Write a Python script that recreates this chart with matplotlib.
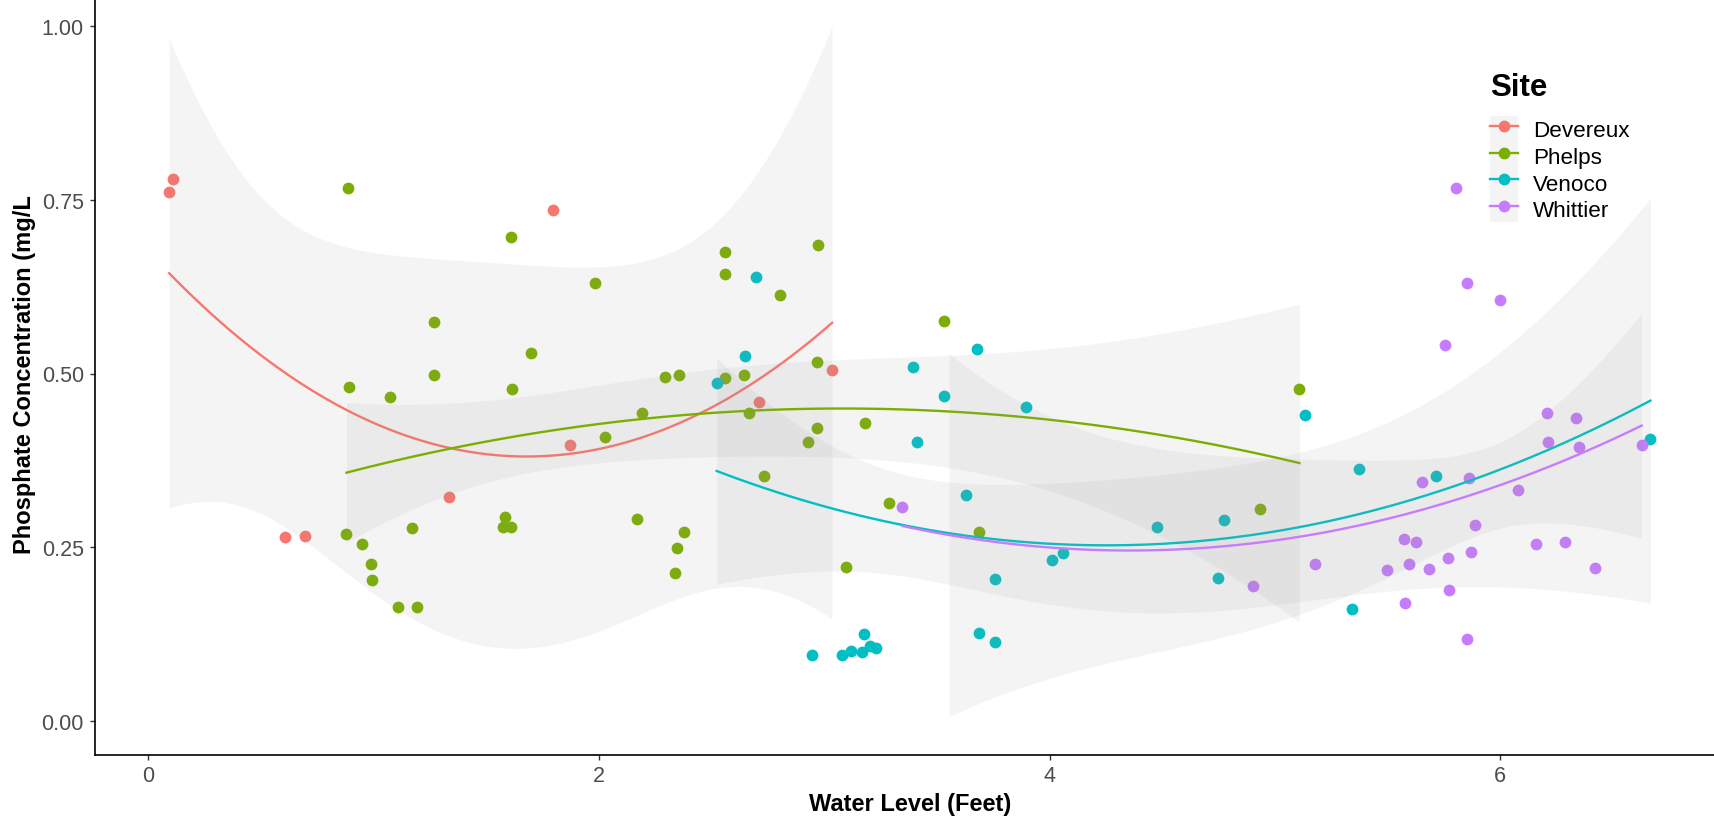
import math
import numpy as np
import matplotlib
matplotlib.use("Agg")
import matplotlib.pyplot as plt
from matplotlib.lines import Line2D
from matplotlib.patches import Patch
from matplotlib.legend_handler import HandlerTuple

plt.rcParams["font.family"] = ["Liberation Sans", "DejaVu Sans"]

sites = ["Devereux", "Phelps", "Venoco", "Whittier"]
colors = ["#F8766D", "#7CAE00", "#00BFC4", "#C77CFF"]

devereux_x = [0.093, 0.111, 0.607, 0.697, 1.335, 1.798, 1.873, 2.712, 3.035]
devereux_y = [0.762, 0.780, 0.264, 0.266, 0.322, 0.735, 0.397, 0.459, 0.505]

phelps_x = [0.886, 1.610, 1.267, 1.699, 1.267, 0.891, 1.071, 1.614, 0.880, 0.950,
            0.987, 0.991, 1.108, 1.193, 1.170, 1.582, 1.576, 1.610, 1.984, 2.560,
            2.560, 2.971, 2.802, 2.295, 2.354, 2.560, 2.644, 2.967, 2.190, 2.027,
            2.665, 2.967, 2.929, 3.183, 3.530, 2.734, 2.169, 2.379, 2.348, 2.338,
            3.098, 3.288, 5.109, 4.934, 3.688]
phelps_y = [0.767, 0.697, 0.574, 0.529, 0.498, 0.480, 0.466, 0.478, 0.269, 0.255,
            0.226, 0.202, 0.164, 0.164, 0.277, 0.293, 0.279, 0.279, 0.631, 0.675,
            0.643, 0.685, 0.613, 0.495, 0.498, 0.493, 0.498, 0.517, 0.443, 0.409,
            0.443, 0.421, 0.402, 0.428, 0.575, 0.352, 0.291, 0.272, 0.248, 0.212,
            0.221, 0.314, 0.478, 0.305, 0.272]

venoco_x = [2.697, 2.650, 2.523, 3.394, 3.530, 3.413, 3.629, 2.944, 3.080, 3.118,
            3.166, 3.178, 3.203, 3.230, 3.678, 3.896, 3.758, 3.689, 3.758, 4.011,
            4.058, 4.476, 4.776, 4.749, 5.135, 5.372, 5.341, 5.717, 6.667]
venoco_y = [0.639, 0.525, 0.486, 0.510, 0.467, 0.402, 0.325, 0.094, 0.094, 0.101,
            0.099, 0.125, 0.108, 0.104, 0.536, 0.452, 0.204, 0.126, 0.114, 0.232,
            0.242, 0.279, 0.289, 0.205, 0.440, 0.363, 0.161, 0.352, 0.406]

whittier_x = [3.347, 4.903, 5.178, 5.499, 5.806, 5.853, 6.001, 5.754, 6.207, 6.338,
              6.213, 6.349, 6.628, 5.653, 5.863, 6.081, 5.887, 5.574, 5.627, 5.594,
              5.683, 5.767, 5.869, 6.159, 6.287, 6.423, 5.579, 5.774, 5.853]
whittier_y = [0.308, 0.194, 0.226, 0.217, 0.767, 0.631, 0.606, 0.541, 0.443, 0.436,
              0.402, 0.394, 0.397, 0.344, 0.349, 0.332, 0.282, 0.262, 0.257, 0.226,
              0.219, 0.234, 0.243, 0.255, 0.258, 0.220, 0.170, 0.188, 0.118]

xs_all = [devereux_x, phelps_x, venoco_x, whittier_x]
ys_all = [devereux_y, phelps_y, venoco_y, whittier_y]
y_limits = (0.0, 1.0)


def t_quantile(p, df):
    grid = np.linspace(0, 12, 40001)
    logc = math.lgamma((df + 1) / 2) - math.lgamma(df / 2) - 0.5 * math.log(df * math.pi)
    pdf = np.exp(logc) * (1 + grid ** 2 / df) ** (-(df + 1) / 2)
    cdf = 0.5 + np.concatenate([[0], np.cumsum((pdf[1:] + pdf[:-1]) / 2 * np.diff(grid))])
    return np.interp(p, cdf, grid)


def quad_smooth(x, y, n_out=80, level=0.95):
    # y ~ poly(x, 2) with a confidence band, like geom_smooth(method = "lm")
    x = np.asarray(x, float)
    y = np.asarray(y, float)
    m = x.mean()
    X = np.column_stack([np.ones_like(x), x - m, (x - m) ** 2])
    beta, *_ = np.linalg.lstsq(X, y, rcond=None)
    resid = y - X @ beta
    dof = len(x) - 3
    s2 = resid @ resid / dof
    xtx_inv = np.linalg.inv(X.T @ X)
    xseq = np.linspace(x.min(), x.max(), n_out)
    Xn = np.column_stack([np.ones_like(xseq), xseq - m, (xseq - m) ** 2])
    fit = Xn @ beta
    se = np.sqrt(s2 * np.einsum("ij,jk,ik->i", Xn, xtx_inv, Xn))
    ci = se * t_quantile(level / 2 + 0.5, dof)
    return xseq, fit, fit - ci, fit + ci


fig = plt.figure(figsize=(17.14, 8.2), dpi=100)
ax = fig.add_axes([95.1 / 1714, 63.6 / 820, 1629.4 / 1714, 763.8 / 820])

for x, y, c in zip(xs_all, ys_all, colors):
    ax.scatter(x, y, s=72, color=c, linewidths=0, zorder=2)

z = 3
for x, y, c in zip(xs_all, ys_all, colors):
    xseq, fit, lo, hi = quad_smooth(x, y)
    # values outside the y limits are dropped, which splits the ribbon
    ok = (lo >= y_limits[0]) & (hi <= y_limits[1])
    ax.fill_between(xseq, lo, hi, where=ok, color="#999999", alpha=0.1,
                    linewidth=0, zorder=z)
    line = np.where((fit >= y_limits[0]) & (fit <= y_limits[1]), fit, np.nan)
    ax.plot(xseq, line, color=c, lw=1.7, zorder=z + 0.5)
    z += 1

all_x = np.concatenate([np.asarray(v) for v in xs_all])
pad = 0.05 * (all_x.max() - all_x.min())
ax.set_xlim(all_x.min() - pad, all_x.max() + pad)
ypad = 0.05 * (y_limits[1] - y_limits[0])
ax.set_ylim(y_limits[0] - ypad, y_limits[1] + ypad)

ax.set_xticks([0, 2, 4, 6])
ax.set_yticks([0, 0.25, 0.5, 0.75, 1.0])
ax.set_yticklabels(["0.00", "0.25", "0.50", "0.75", "1.00"])
for side in ["top", "right"]:
    ax.spines[side].set_visible(False)
for side in ["left", "bottom"]:
    ax.spines[side].set_linewidth(1.2)
    ax.spines[side].set_color("black")
ax.tick_params(axis="both", direction="out", length=3.5, width=1.0, color="#333333",
               labelsize=15.5, labelcolor="#4D4D4D", pad=4.5)
ax.tick_params(axis="x", pad=3.5)

ax.set_xlabel("Water Level (Feet)", fontsize=17, fontweight="bold", labelpad=4)
ax.set_ylabel("Phosphate Concentration (mg/L", fontsize=17, fontweight="bold", labelpad=4)

# legend: title drawn on its own, keys stacked as grey boxes with line + point
fig.text(1490 / 1714, 1 - 95.5 / 820, "Site", fontsize=22.5, fontweight="bold",
         ha="left", va="baseline")
handles = [(Patch(facecolor="#999999", alpha=0.1, linewidth=0),
            Line2D([], [], color=c, lw=1.7, marker="o", markersize=7.5))
           for c in colors]
leg = ax.legend(handles, sites, handler_map={tuple: HandlerTuple(ndivide=1, pad=0)},
                loc="upper left", bbox_to_anchor=(1490 / 1714, 1 - 116.5 / 820),
                bbox_transform=fig.transFigure, frameon=False, fontsize=16.2,
                handlelength=1.23, handleheight=1.45, labelspacing=0,
                handletextpad=0.69, borderpad=0, borderaxespad=0)

fig.savefig("out.png", dpi=100)
